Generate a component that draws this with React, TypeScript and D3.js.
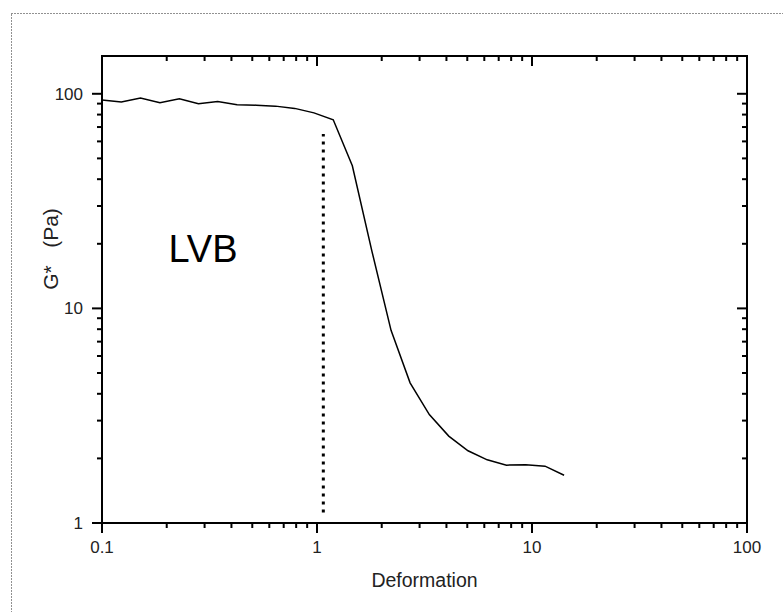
import React from 'react';
import * as d3 from 'd3';

// Deformation (x) and G* in Pa (y)
const deformation = [
  0.1, 0.123, 0.151, 0.186, 0.229, 0.281, 0.345, 0.425, 0.522, 0.641, 0.788, 0.968,
  1.19, 1.46, 1.8, 2.21, 2.71, 3.33, 4.1, 5.04, 6.19, 7.61, 9.35, 11.5, 14.1,
];
const gStar = [
  93.5, 91.5, 95.5, 90.8, 94.8, 89.8, 92, 89, 88.5, 87.6, 85.5, 81.5,
  75.7, 46.2, 18.5, 7.9, 4.5, 3.2, 2.54, 2.17, 1.97, 1.86, 1.87, 1.84, 1.67,
];
// linear viscoelastic boundary marker
const lvbX = 1.07;
const lvbRange = [1.12, 65];

const xTicks = [0.1, 1, 10, 100];
const yTicks = [1, 10, 100];
const xTickLabels = ['0.1', '1', '10', '100'];
const yTickLabels = ['1', '10', '100'];

const W = 783;
const H = 612;
const margin = { left: 102, right: 36, top: 56, bottom: 89 };

const font = 'Liberation Sans, Arial, sans-serif';

const minorTicks = (lo: number, hi: number) => {
  const out: number[] = [];
  for (let d = lo; d < hi; d *= 10) {
    for (let m = 2; m <= 9; m++) {
      const v = d * m;
      if (v < hi) out.push(v);
    }
  }
  return out;
};

const App = () => {
  const x = d3.scaleLog().domain([0.1, 100]).range([margin.left, W - margin.right]);
  const y = d3.scaleLog().domain([1, 150]).range([H - margin.bottom, margin.top]);

  const x0 = x.range()[0];
  const x1 = x.range()[1];
  const yB = y.range()[0];
  const yT = y.range()[1];

  const line = d3
    .line<number>()
    .x((_, i) => x(deformation[i]))
    .y((d) => y(d));

  const xMinor = minorTicks(0.1, 100);
  const yMinor = minorTicks(1, 150);

  const major = 10;
  const minor = 5;

  return (
    <svg width={W} height={H} style={{ position: 'absolute', left: 0, top: 0, background: '#fff' }}>
      <rect x={11.5} y={13.5} width={900} height={700} fill="none" stroke="#222" strokeWidth={1} strokeDasharray="1,2" />

      {/* frame */}
      <rect x={x0} y={yT} width={x1 - x0} height={yB - yT} fill="none" stroke="#000" strokeWidth={2} />

      {/* bottom + top ticks */}
      {xTicks.map((t) => (
        <g key={'xm' + t}>
          <line x1={x(t)} x2={x(t)} y1={yB} y2={yB + major} stroke="#000" strokeWidth={2} />
          <line x1={x(t)} x2={x(t)} y1={yT} y2={yT + major} stroke="#000" strokeWidth={2} />
        </g>
      ))}
      {xMinor.map((t) => (
        <g key={'xn' + t}>
          <line x1={x(t)} x2={x(t)} y1={yB} y2={yB + minor} stroke="#000" strokeWidth={2} />
          <line x1={x(t)} x2={x(t)} y1={yT} y2={yT + minor} stroke="#000" strokeWidth={2} />
        </g>
      ))}

      {/* left + right ticks */}
      {yTicks.map((t) => (
        <g key={'ym' + t}>
          <line x1={x0 - major} x2={x0} y1={y(t)} y2={y(t)} stroke="#000" strokeWidth={2} />
          <line x1={x1 - major} x2={x1} y1={y(t)} y2={y(t)} stroke="#000" strokeWidth={2} />
        </g>
      ))}
      {yMinor.map((t) => (
        <g key={'yn' + t}>
          <line x1={x0 - minor} x2={x0} y1={y(t)} y2={y(t)} stroke="#000" strokeWidth={2} />
          <line x1={x1 - minor} x2={x1} y1={y(t)} y2={y(t)} stroke="#000" strokeWidth={2} />
        </g>
      ))}

      {/* tick labels */}
      {xTicks.map((t, i) => (
        <text key={'xl' + t} x={x(t)} y={yB + 30} textAnchor="middle" fontFamily={font} fontSize={17} fill="#222">
          {xTickLabels[i]}
        </text>
      ))}
      {yTicks.map((t, i) => (
        <text key={'yl' + t} x={x0 - 19} y={y(t) + 6} textAnchor="end" fontFamily={font} fontSize={17} fill="#222">
          {yTickLabels[i]}
        </text>
      ))}

      {/* axis titles */}
      <text x={(x0 + x1) / 2} y={yB + 64} textAnchor="middle" fontFamily={font} fontSize={19.5} fill="#222">
        Deformation
      </text>
      <text
        transform={`translate(${x0 - 44},249) rotate(-90)`}
        textAnchor="middle"
        fontFamily={font}
        fontSize={21}
        fill="#222"
        xmlSpace="preserve"
      >
        G*   (Pa)
      </text>

      {/* LVB marker */}
      <line
        x1={x(lvbX)}
        x2={x(lvbX)}
        y1={y(lvbRange[0])}
        y2={y(lvbRange[1])}
        stroke="#000"
        strokeWidth={3}
        strokeDasharray="3,5"
      />
      <text x={203} y={262} textAnchor="middle" fontFamily={font} fontSize={38} fill="#000">
        LVB
      </text>

      <path d={line(gStar) || ''} fill="none" stroke="#000" strokeWidth={1.5} />
    </svg>
  );
};

export default App;
